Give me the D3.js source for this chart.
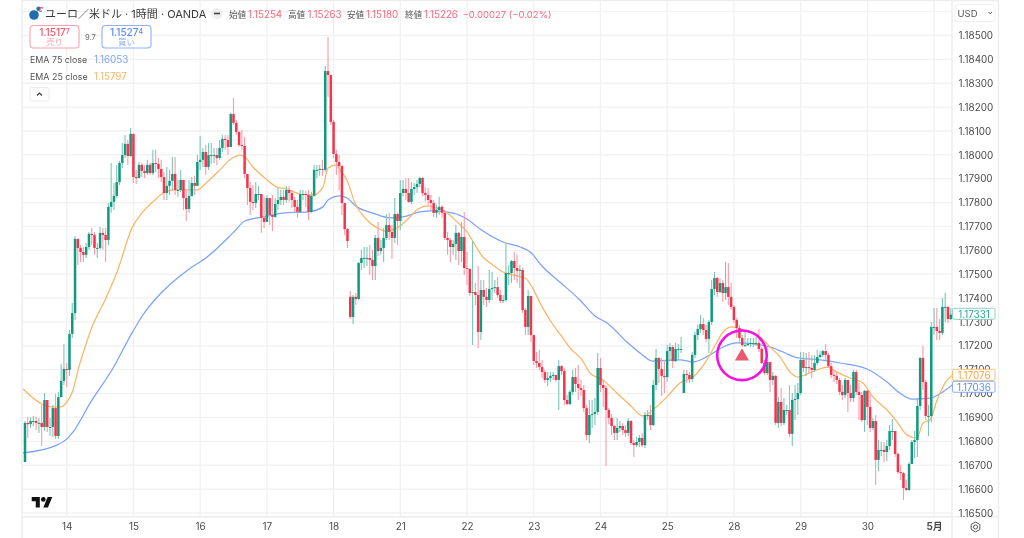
<!DOCTYPE html>
<html><head><meta charset="utf-8">
<script src="https://cdnjs.cloudflare.com/ajax/libs/d3/7.8.5/d3.min.js"></script>
<style>html,body{margin:0;padding:0;background:#fff;overflow:hidden}svg{display:block;filter:blur(.35px)}
text{font-family:Inter,"Noto Sans CJK JP",Roboto,sans-serif}</style></head><body>
<svg id="c" width="1024" height="538"></svg>
<script>
// Prices are stored in points: price = 1 + points / 100000
const closes=[16877,16872,16885,16885,16877,16877,16860,16973,16860,16860,16939,16822,16985,17053,17103,17099,17250,17337,17648,
17610,17593,17581,17614,17669,17664,17610,17610,17673,17664,17643,17782,17803,17828,17886,17966,17999,18046,17995,18088,17907,
17903,17958,17933,17924,17958,17924,17966,17962,17941,17907,17840,17870,17891,17920,17853,17853,17895,17819,17773,17828,
17882,17870,17970,17979,18012,17949,17999,17999,17999,17987,18029,18067,18062,18033,18171,18134,18096,18041,18037,17920,
17861,17803,17798,17836,17836,17736,17719,17819,17748,17740,17794,17811,17824,17811,17853,17840,17811,17782,17761,17836,
17836,17832,17761,17828,17937,17937,17941,17937,18351,18335,18138,18004,17970,17953,17798,17689,17639,17321,17405,17396,
17547,17568,17568,17568,17560,17534,17652,17597,17610,17652,17706,17677,17652,17752,17723,17840,17857,17840,17803,17857,
17865,17878,17903,17840,17832,17811,17798,17757,17769,17782,17757,17652,17643,17614,17627,17673,17597,17656,17526,17522,
17421,17425,17413,17258,17434,17405,17392,17438,17442,17446,17413,17388,17392,17505,17505,17555,17526,17514,17518,17350,
17279,17409,17245,17136,17128,17111,17090,17057,17065,17074,17078,17057,17115,17094,16973,16956,17007,17069,17040,17023,
17015,16939,16826,16910,16914,16923,17107,17036,17023,16931,16898,16864,16835,16856,16864,16847,16835,16885,16793,16784,
16797,16814,16784,16910,16910,16868,17036,17149,17103,17074,17069,17178,17195,17136,17187,17187,17187,17082,17078,17061,
17162,17245,17270,17291,17266,17229,17300,17438,17484,17425,17463,17421,17446,17405,17363,17308,17275,17233,17203,17203,
17208,17212,17212,17212,17187,17128,17086,17132,17057,17074,16877,16965,16877,16931,16931,16831,16973,16977,17002,17141,
17107,17111,17107,17099,17128,17153,17162,17178,17162,17115,17078,17074,17057,17007,16994,17057,17002,16981,17090,17007,
16994,16889,17011,16944,16856,16885,16722,16764,16764,16755,16780,16843,16843,16747,16671,16667,16604,16596,16705,16797,
16805,16948,17149,17048,16906,16906,17279,17279,17262,17254,17363,17363,17312,17331];
const highs=[16885,16902,16902,16906,16902,16898,16952,17002,16973,16898,16952,16998,17007,17124,17208,17128,17266,17379,17660,
17648,17622,17614,17631,17677,17694,17677,17631,17698,17694,17694,17798,17966,17882,17958,17974,18050,18083,18062,18113,18088,
17937,17970,17966,17958,17979,17966,18021,18021,17987,17979,17928,17949,17937,17991,17991,17895,17937,17895,17853,17895,
17907,17912,18000,18079,18029,18041,18050,18050,18029,18029,18062,18083,18083,18083,18176,18238,18146,18100,18104,18075,
17916,17886,17874,17886,17870,17828,17824,17832,17819,17832,17819,17861,17853,17853,17870,17870,17853,17824,17811,17853,
17853,17849,17853,17845,17958,17958,17958,17979,18372,18494,18335,18146,18021,17999,17958,17798,17694,17430,17413,17421,
17551,17602,17614,17614,17622,17602,17664,17719,17643,17694,17752,17757,17706,17819,17757,17895,17895,17903,17903,17886,
17882,17895,17907,17907,17865,17861,17832,17811,17790,17824,17790,17769,17677,17652,17643,17706,17677,17719,17761,17593,
17526,17639,17463,17534,17476,17476,17442,17518,17509,17476,17488,17434,17413,17631,17539,17560,17593,17581,17539,17526,
17358,17434,17409,17245,17174,17183,17141,17099,17090,17090,17090,17078,17141,17120,17107,16994,17015,17099,17107,17120,
17057,17036,16952,16973,16973,16981,17170,17149,17057,17036,16939,16914,16868,16898,16885,16877,16868,16898,16889,16805,
16818,16826,16835,16923,16931,16952,17057,17187,17153,17149,17141,17203,17212,17203,17212,17208,17237,17099,17099,17090,
17174,17258,17287,17329,17317,17287,17308,17476,17509,17488,17484,17476,17551,17547,17463,17371,17317,17287,17245,17262,
17233,17233,17233,17237,17270,17195,17141,17141,17132,17090,17078,16986,17023,16981,16952,17036,17002,17036,17044,17174,
17174,17170,17174,17162,17162,17183,17178,17183,17208,17170,17128,17099,17090,17065,17036,17065,17057,17036,17099,17099,
17044,17007,17015,17015,16994,16898,16910,16805,16797,16797,16805,16868,16893,16826,16751,16701,16671,16638,16713,16805,
16843,16981,17153,17199,17057,16952,17300,17358,17358,17312,17400,17421,17367,17358];
const lows=[16713,16814,16856,16864,16847,16835,16780,16843,16839,16822,16818,16810,16810,16990,17036,17027,17074,17233,17308,
17539,17551,17551,17568,17602,17622,17581,17568,17602,17602,17551,17622,17757,17769,17819,17874,17945,17987,17958,17991,17882,
17878,17907,17907,17903,17916,17916,17916,17928,17903,17886,17811,17811,17832,17853,17832,17824,17844,17769,17723,17757,
17824,17832,17874,17937,17949,17916,17937,17962,17966,17958,17979,18012,18021,17999,18033,18125,18083,18033,18021,17903,
17790,17748,17769,17777,17811,17673,17694,17719,17706,17681,17736,17769,17790,17790,17798,17803,17777,17757,17736,17761,
17811,17782,17727,17757,17824,17903,17912,17912,17928,18243,18125,17987,17916,17853,17748,17664,17610,17312,17291,17371,
17392,17518,17526,17534,17497,17476,17476,17576,17581,17551,17643,17643,17564,17631,17622,17685,17824,17811,17798,17794,
17832,17840,17865,17828,17803,17790,17769,17740,17736,17748,17736,17643,17581,17551,17581,17560,17539,17551,17497,17455,
17409,17203,17371,17191,17224,17371,17363,17379,17392,17421,17400,17379,17379,17384,17455,17463,17476,17463,17442,17337,
17245,17245,17216,17120,17107,17099,17065,17044,17032,17048,17057,17048,16931,17078,16952,16952,16952,16994,17007,16973,
16990,16923,16805,16793,16856,16868,16910,17007,16944,16696,16872,16826,16805,16805,16839,16826,16818,16822,16784,16734,
16776,16776,16776,16772,16889,16847,16864,17015,17044,16990,17002,17048,17141,17107,17132,17141,17170,17002,17044,17044,
17048,17149,17224,17254,17245,17216,17170,17287,17413,17405,17421,17384,17392,17371,17350,17296,17233,17212,17195,17195,
17199,17195,17195,17199,17174,17124,17078,17078,17007,17036,16868,16856,16864,16868,16910,16818,16780,16889,16910,16994,
17090,17074,17086,17065,17090,17120,17149,17153,17141,17107,17065,17048,17040,16994,16973,16981,16923,16965,16965,16994,
16889,16881,16839,16868,16839,16847,16617,16675,16738,16713,16717,16764,16805,16734,16663,16638,16554,16592,16592,16734,
16730,16734,16931,17015,16889,16822,16881,17245,17224,17224,17245,17300,17296,17308];
// Candles whose open differs from the previous close (weekend gap and jumps)
const gapIndex=[0,117,237];
const gapOpen=[16713,17405,17002];
const ema25Index=[-0.7,6.1,9.7,12.6,15.1,17.3,19.1,21.6,24.1,28.8,33.1,38.5,42.4,47.5,49.6,54,61.9,65.5,70.1,73.7,77.3,79.1,82,87.1,90.6,94.2,98.9,103.6,107.2,109,112.2,113.3,115.8,118.7,123,126.6,129.5,133.1,137.4,141.4,145,148.2,151.8,155.4,159,161.9,164.7,168.3,171.9,175.5,179.9,182.4,185.3,188.8,193.2,196,200.4,203.2,207.9,212.9,217.6,222.3,226.6,230.9,235.6,240.3,245.3,248.9,251.1,254.3,258.3,264.4,268,271.6,275.2,278.1,281.3,284.9,288.5,292.1,296.8,301.4,305,310.1,313.7,317.3,320.9,323,325.5,328.1,330.9,333.5];
const ema25=[17019,16956,16944,16944,16965,17015,17099,17195,17279,17392,17509,17694,17761,17819,17840,17853,17853,17886,17937,17979,17999,17991,17949,17895,17865,17857,17836,17832,17865,17945,17958,17937,17895,17798,17727,17694,17681,17689,17727,17773,17786,17777,17757,17719,17677,17622,17572,17539,17509,17497,17484,17446,17379,17308,17237,17191,17141,17086,17057,17002,16952,16906,16939,16986,17044,17069,17141,17216,17258,17279,17266,17237,17195,17153,17090,17069,17082,17099,17111,17090,17065,17044,16986,16931,16881,16826,16814,16877,16889,16973,17044,17076];
const ema75Index=[-0.7,11.5,15.1,17.3,23.4,31.7,38.5,42.4,48.6,54,58.6,65.5,74.8,79.1,85.6,92.8,101.8,107.2,109,113.3,115.8,119.4,125.2,131.3,136,142.1,146.8,154,159,163.7,171.9,178.1,181.7,186.3,192.4,199.6,205,209.4,216.5,221.2,225.9,235.6,240.3,246.4,251.1,256.1,261.9,268,272.7,278.1,286,293.2,302.9,310.1,314.7,319.1,325.5,330.2,333.5];
const ema75=[16751,16784,16810,16839,16960,17107,17254,17329,17417,17476,17518,17572,17673,17723,17740,17756,17761,17782,17811,17828,17819,17782,17756,17736,17740,17761,17765,17756,17731,17689,17635,17614,17593,17530,17467,17392,17325,17296,17216,17170,17136,17141,17132,17162,17195,17212,17208,17195,17174,17149,17141,17128,17103,17048,17002,16977,16981,17007,17036];
const dayIndex=[15,39,63,87,111,135,159,183,207,231,255,279,303,327];
const dayLabels=["14","15","16","17","18","21","22","23","24","25","28","29","30","5月"];
const priceTicks=[1.165,1.166,1.167,1.168,1.169,1.17,1.171,1.172,1.173,1.174,1.175,1.176,1.177,1.178,1.179,1.18,1.181,1.182,1.183,1.184,1.185,1.186];
const ohlcLabels=["始値","高値","安値","終値"];
const ohlcValues=["1.15254","1.15263","1.15180","1.15226"];
const changeText="−0.00027 (−0.02%)";
const signalIndex=257.9, signalPts=17160;
const lastValues=[{pts:17331,c:"#26a69a",b:"#7fcdbb"},{pts:17076,c:"#f7a63c",b:"#fbb95f"},{pts:17036,c:"#5b8bf7",b:"#7ea6fb"}];

const P=p=>1+p/100000;
const W={l:22.5,r:952,b:516.7};
const x=d3.scaleLinear().domain([0,333]).range([25,950.74]);
const y=d3.scaleLinear().domain([1.165,1.185]).range([512.9,35.5]);
const svg=d3.select("#c");
const RED="#f5334c",GRN="#0f9a80",FR="#ededed";

// Grid
const grid=svg.append("g").attr("stroke","#f1f1f1").attr("stroke-width",1.3);
grid.selectAll("line.h").data(priceTicks).join("line").attr("x1",W.l).attr("x2",W.r).attr("y1",d=>y(d)).attr("y2",d=>y(d));
grid.selectAll("line.v").data(dayIndex).join("line").attr("x1",d=>x(d)).attr("x2",d=>x(d)).attr("y1",0).attr("y2",W.b);

// Frame
const fr=svg.append("g").attr("stroke",FR).attr("stroke-width",1.5);
[[22,0,22,538],[952,0,952,538],[998.5,0,998.5,538],[22,W.b,999,W.b],[22,.5,999,.5]].forEach(a=>fr.append("line").attr("x1",a[0]).attr("y1",a[1]).attr("x2",a[2]).attr("y2",a[3]));

svg.append("defs").append("clipPath").attr("id","pl").append("rect").attr("x",W.l).attr("y",0).attr("width",W.r-W.l).attr("height",W.b);
const plot=svg.append("g").attr("clip-path","url(#pl)");

// EMAs
const line=d3.line().x(d=>x(d[0])).y(d=>y(P(d[1]))).curve(d3.curveMonotoneX);
plot.append("path").attr("d",line(ema75Index.map((d,i)=>[d,ema75[i]]))).attr("fill","none").attr("stroke","#7ba2fb").attr("stroke-width",1.25);
plot.append("path").attr("d",line(ema25Index.map((d,i)=>[d,ema25[i]]))).attr("fill","none").attr("stroke","#fbb565").attr("stroke-width",1.25);

// Candles
const candles=closes.map((c,i)=>{
  const g=gapIndex.indexOf(i);
  const o=g>=0?gapOpen[g]:closes[i-1];
  return {i,o,c,h:Math.max(highs[i],o,c),l:Math.min(lows[i],o,c)};
});
const cg=plot.append("g");
cg.selectAll("line").data(candles).join("line").attr("x1",d=>x(d.i)).attr("x2",d=>x(d.i))
  .attr("y1",d=>y(P(d.h))).attr("y2",d=>y(P(d.l))).attr("stroke-width",1.1)
  .attr("stroke",d=>d.c>=d.o?"#7cc6b6":"#f99aa8");
cg.selectAll("rect").data(candles).join("rect").attr("x",d=>x(d.i)-1.25).attr("width",2.5)
  .attr("y",d=>y(P(Math.max(d.o,d.c)))).attr("height",d=>Math.max(1,Math.abs(y(P(d.o))-y(P(d.c)))))
  .attr("fill",d=>d.c>=d.o?GRN:RED);

// Annotation
const sx=x(signalIndex),sy=y(P(signalPts));
svg.append("circle").attr("cx",sx).attr("cy",sy).attr("r",24.8).attr("fill","none").attr("stroke","#f50fe0").attr("stroke-width",2.6);
svg.append("path").attr("d",d3.symbol(d3.symbolTriangle,85)()).attr("transform",`translate(${sx},${sy+1})`).attr("fill","#e9596f");

// Axes
const ax=svg.append("g").attr("transform",`translate(952,0)`).call(
  d3.axisRight(y).tickValues(priceTicks.filter(d=>d<1.1855)).tickFormat(d3.format(".5f")).tickSize(0).tickPadding(6.5));
ax.select(".domain").remove();
ax.selectAll("text").attr("font-size",9.9).attr("fill","#4a4a4a").style("font-family","Inter,sans-serif");
const bx=svg.append("g").attr("transform",`translate(0,${W.b})`).call(
  d3.axisBottom(x).tickValues(dayIndex).tickFormat((d,i)=>dayLabels[i]).tickSize(0).tickPadding(6));
bx.select(".domain").remove();
bx.selectAll("text").attr("font-size",9.9).attr("fill","#4a4a4a").attr("font-weight",(d,i)=>dayLabels[i]==="5月"?700:400);

// Last value labels
lastValues.forEach(v=>{
  const yy=Math.round(y(P(v.pts)))+(v.pts===17036?2:v.pts===17331?-1:0);
  svg.append("rect").attr("x",952.5).attr("y",yy-5.7).attr("width",42.5).attr("height",11).attr("rx",1.5).attr("fill","#fff").attr("stroke",v.b).attr("stroke-width",.9);
  svg.append("text").attr("x",974).attr("y",yy+3.5).attr("text-anchor","middle").attr("font-size",9.9).attr("fill",v.c).text(d3.format(".5f")(P(v.pts)));
});

// USD box
svg.append("rect").attr("x",955).attr("y",4.5).attr("width",40).attr("height",17).attr("rx",3).attr("fill","#fff").attr("stroke","#f0f0f0");
svg.append("text").attr("x",957.5).attr("y",17).attr("font-size",9.5).attr("fill","#555").text("USD");
svg.append("path").attr("d","M988.5 12l1.8 1.8 1.8-1.8").attr("fill","none").attr("stroke","#555").attr("stroke-width",1);

// Gear
const gx=975.5,gy=527;
svg.append("circle").attr("cx",gx).attr("cy",gy).attr("r",2).attr("fill","none").attr("stroke","#555").attr("stroke-width",1);
svg.append("path").attr("d",d3.line()(d3.range(6).map(k=>[gx+5*Math.cos(k*Math.PI/3+Math.PI/6),gy+5*Math.sin(k*Math.PI/3+Math.PI/6)]))+"Z").attr("fill","none").attr("stroke","#555").attr("stroke-width",1);

// Header
const lg=svg.append("g");
lg.append("circle").attr("cx",34).attr("cy",15).attr("r",4.8).attr("fill","#1f6fae");
lg.append("circle").attr("cx",38.5).attr("cy",8.8).attr("r",2.2).attr("fill","#3a6fa8");
lg.append("rect").attr("x",40).attr("y",7).attr("width",3).attr("height",1.6).attr("fill","#f06a78");
lg.append("rect").attr("x",39.5).attr("y",10.5).attr("width",2.5).attr("height",1.5).attr("fill","#f06a78");
const T=(s,xx,yy,fs,col)=>svg.append("text").attr("x",xx).attr("y",yy).attr("font-size",fs).attr("fill",col).text(s);
T("ユーロ／米ドル · 1時間 · OANDA",45,18,11,"#3a3a3a");
svg.append("circle").attr("cx",217).attr("cy",13.5).attr("r",5.6).attr("fill","#eeeeee");
svg.append("rect").attr("x",214).attr("y",12.7).attr("width",6).attr("height",1.6).attr("fill","#444");
const labX=[229,288,347,405],valX=[248,307.5,366,424];
ohlcLabels.forEach((s,i)=>{T(s,labX[i],17.5,8.6,"#555");T(ohlcValues[i],valX[i],17.5,9.8,"#f5697c");});
T(changeText,462.5,17.5,9.5,"#f5697c");

// Sell / buy
const box=(xx,col,b,main,sup,lab)=>{
  svg.append("rect").attr("x",xx).attr("y",25.5).attr("width",49).attr("height",22.5).attr("rx",3.5).attr("fill","#fff").attr("stroke",b).attr("stroke-width",1.1);
  const t=svg.append("text").attr("x",xx+24.5).attr("y",35.5).attr("text-anchor","middle").attr("font-size",10).attr("font-weight",500).attr("fill",col);
  t.append("tspan").text(main);
  t.append("tspan").attr("font-size",7).attr("dy",-1.5).text(sup);
  svg.append("text").attr("x",xx+24.5).attr("y",45).attr("text-anchor","middle").attr("font-size",8.5).attr("fill",b).text(lab);
};
box(30,"#f5566d","#f9a3ae","1.1517","7","売り");
box(102,"#5b8bf7","#90b0fb","1.1527","4","買い");
T("9.7",85,40,7.5,"#666");
T("EMA 75 close",30,63,8.9,"#555");T("1.16053",94,63,9.8,"#7ba2fb");
T("EMA 25 close",30,80,8.9,"#555");T("1.15797",94,80,9.8,"#fbb565");
svg.append("rect").attr("x",30).attr("y",87.5).attr("width",19).attr("height",13.5).attr("rx",2).attr("fill","#fff").attr("stroke","#ececec");
svg.append("path").attr("d","M37 95.5l2.5-2.5 2.5 2.5").attr("fill","none").attr("stroke","#333").attr("stroke-width",1.1);

// TV logo
const tv=svg.append("g").attr("transform","translate(31.7,494.8) scale(.58)").attr("fill","#111");
tv.append("path").attr("d","M14 22H7V11H0V4h14v18zM28 22h-8l7.5-18h8L28 22z");
tv.append("circle").attr("cx",20).attr("cy",8).attr("r",4);
</script></body></html>
